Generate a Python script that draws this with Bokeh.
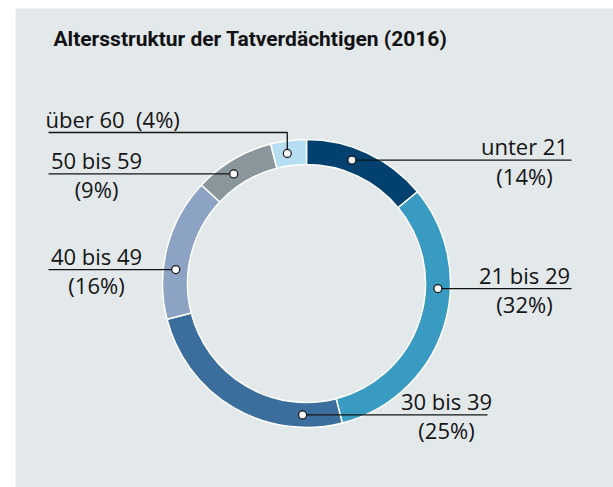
import math
from bokeh.plotting import figure
from bokeh.models import Range1d
from bokeh.core.properties import value
from bokeh.embed import file_html
from bokeh.resources import INLINE

# ---- data ----
title = "Altersstruktur der Tatverdächtigen (2016)"
categories = ["unter 21", "21 bis 29", "30 bis 39", "40 bis 49", "50 bis 59", "über 60"]
shares = [14, 32, 25, 16, 9, 4]
colors = ["#00416f", "#3a9bc2", "#3b6e9c", "#8da3c4", "#89969b", "#b5def2"]

# ---- layout (pixel coordinates, y measured from top) ----
W, H = 613, 487
CX, CY = 306, 283
R_IN, R_OUT = 119, 144
R_MID = (R_IN + R_OUT) / 2
anchor_deg = [20.2, 92.2, 181.7, 276.1, 326.4, 351.6]   # clockwise from 12 o'clock
line_end_x = [571, 571, 487, 48, 48, 48]
text_cx = [524, 524, 446, 96, 96, 45]
elbow_y = 132  # for the smallest slice
LABEL_FONT = value("Open Sans")
LABEL_SIZE = "22px"
INK = "#141414"


def Y(y):
    return H - y


p = figure(width=W, height=H, x_range=Range1d(0, W), y_range=Range1d(0, H),
           output_backend="svg", toolbar_location=None, min_border=0,
           background_fill_color="white", border_fill_color="white")
p.axis.visible = False
p.grid.visible = False
p.outline_line_color = None

# panel background
p.quad(left=15, right=W, top=Y(8), bottom=0, fill_color="#e3e8eb", line_color=None)

# title
p.text(x=[53], y=[Y(38)], text=[title], text_font=value("Roboto"),
       text_font_style="bold", text_font_size="21px", text_color="#111111",
       text_baseline="middle", text_align="left")

# donut
total = sum(shares)
cum = 0
starts, ends = [], []
for s in shares:
    a0 = cum / total
    cum += s
    a1 = cum / total
    starts.append(math.pi / 2 - a1 * 2 * math.pi)
    ends.append(math.pi / 2 - a0 * 2 * math.pi)
p.annular_wedge(x=CX, y=Y(CY), inner_radius=R_IN, outer_radius=R_OUT,
                start_angle=starts, end_angle=ends, fill_color=colors,
                line_color="white", line_width=1.5, direction="anticlock")

# leaders, dots, labels
dots_x, dots_y = [], []
for i, cat in enumerate(categories):
    a = math.radians(anchor_deg[i])
    dx = CX + R_MID * math.sin(a)
    dy = CY - R_MID * math.cos(a)
    dots_x.append(dx)
    dots_y.append(Y(dy))
    pct = f"({shares[i]}%)"
    if i == len(categories) - 1:
        p.line(x=[dx, dx, line_end_x[i]], y=[Y(dy), Y(elbow_y), Y(elbow_y)],
               line_color=INK, line_width=1.3)
        p.text(x=[text_cx[i]], y=[Y(elbow_y - 14)], text=[f"{cat}\u00a0\u00a0{pct}"],
               text_font=LABEL_FONT, text_font_size=LABEL_SIZE, text_color=INK,
               text_align="left", text_baseline="middle")
    else:
        p.line(x=[dx, line_end_x[i]], y=[Y(dy), Y(dy)], line_color=INK, line_width=1.3)
        p.text(x=[text_cx[i]], y=[Y(dy - 14)], text=[cat],
               text_font=LABEL_FONT, text_font_size=LABEL_SIZE, text_color=INK,
               text_align="center", text_baseline="middle")
        p.text(x=[text_cx[i]], y=[Y(dy + 15.5)], text=[pct],
               text_font=LABEL_FONT, text_font_size=LABEL_SIZE, text_color=INK,
               text_align="center", text_baseline="middle")

p.scatter(x=dots_x, y=dots_y, size=8, marker="circle", fill_color="white",
          line_color=INK, line_width=1.2)

open("out.html", "w").write(file_html(p, INLINE))
